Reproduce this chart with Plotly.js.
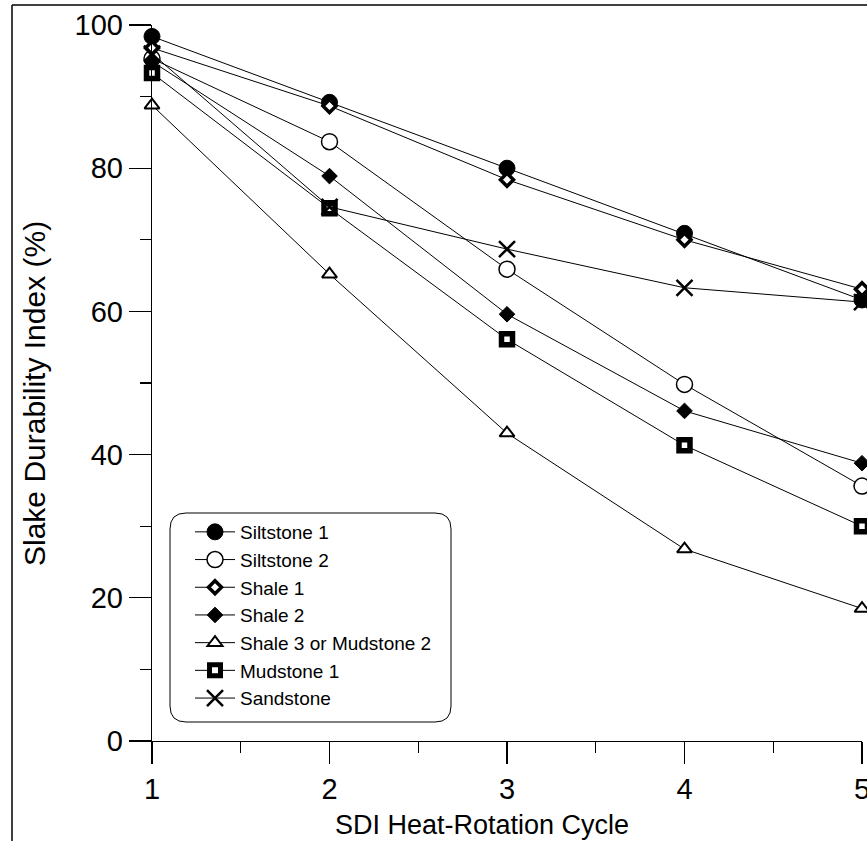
<!DOCTYPE html>
<html>
<head>
<meta charset="utf-8">
<script src="https://cdn.plot.ly/plotly-3.0.1.min.js"></script>
<style>
html,body{margin:0;padding:0;background:#fff;}
#chart{width:867px;height:841px;}
</style>
</head>
<body>
<div id="chart"></div>
<script>
const cycles = [1, 2, 3, 4, 5];
const seriesNames = ["Siltstone 1", "Siltstone 2", "Shale 1", "Shale 2", "Shale 3 or Mudstone 2", "Mudstone 1", "Sandstone"];
const siltstone1 = [98.4, 89.2, 80.0, 70.9, 61.6];
const siltstone2 = [95.3, 83.7, 65.9, 49.8, 35.6];
const shale1 = [96.8, 88.7, 78.4, 70.0, 63.1];
const shale2 = [94.9, 78.9, 59.6, 46.1, 38.8];
const shale3 = [88.8, 65.2, 43.0, 26.8, 18.5];
const mudstone1 = [93.3, 74.4, 56.1, 41.3, 30.0];
const sandstone = [96.0, 74.6, 68.7, 63.3, 61.3];
const yTickVals = [0, 20, 40, 60, 80, 100];
const xTickVals = [1, 2, 3, 4, 5];

const values = [siltstone1, siltstone2, shale1, shale2, shale3, mudstone1, sandstone];
const markers = [
  {symbol: "circle", size: 16, color: "#000", line: {color: "#000", width: 1}},
  {symbol: "circle", size: 16, color: "#fff", line: {color: "#000", width: 1.5}},
  {symbol: "diamond", size: 10, color: "#fff", line: {color: "#000", width: 3.5}},
  {symbol: "diamond", size: 12, color: "#000", line: {color: "#000", width: 1}},
  {symbol: "triangle-up", size: 13, color: "#fff", line: {color: "#000", width: 2}},
  {symbol: "square", size: 11, color: "#fff", line: {color: "#000", width: 5.5}},
  {symbol: "x-thin-open", size: 16, color: "#000", line: {color: "#000", width: 2.5}}
];

const traces = values.map((v, i) => ({
  x: cycles, y: v, name: seriesNames[i], type: "scatter", mode: "lines+markers",
  line: {color: "#000", width: 1}, marker: markers[i], cliponaxis: false
}));

// plot area in pixels
const L = 152, R = 862, T = 25, B = 741, W = 867, H = 841;
const px = x => (x - L) / (R - L);
const py = y => (B - y) / (B - T);

function roundRect(x0, y0, x1, y1, r) {
  const rx = r / (R - L), ry = r / (B - T);
  const a = px(x0), b = px(x1), top = py(y0), bot = py(y1);
  return `M${a + rx},${top} L${b - rx},${top} Q${b},${top} ${b},${top - ry} ` +
         `L${b},${bot + ry} Q${b},${bot} ${b - rx},${bot} L${a + rx},${bot} ` +
         `Q${a},${bot} ${a},${bot + ry} L${a},${top - ry} Q${a},${top} ${a + rx},${top} Z`;
}

const font = "Liberation Sans, Arial, sans-serif";
const layout = {
  width: W, height: H,
  margin: {l: L, r: W - R, t: T, b: H - B, pad: 0},
  paper_bgcolor: "#fff", plot_bgcolor: "#fff",
  font: {family: font, color: "#000"},
  showlegend: true,
  legend: {
    x: px(190), y: py(513), xanchor: "left", yanchor: "top",
    bgcolor: "rgba(0,0,0,0)", borderwidth: 0,
    font: {family: font, size: 19, color: "#000"},
    tracegroupgap: 0, itemwidth: 40
  },
  xaxis: {
    range: [1, 5], tickvals: xTickVals, ticktext: xTickVals.map(String),
    showline: true, linecolor: "#000", linewidth: 1.3,
    ticks: "outside", ticklen: 22, tickwidth: 1.3, tickcolor: "#000",
    minor: {dtick: 0.5, ticks: "outside", ticklen: 11, tickwidth: 1.3, tickcolor: "#000", showgrid: false},
    showgrid: false, zeroline: false, ticklabeloverflow: "allow",
    tickfont: {family: font, size: 29, color: "#000"},
    title: {text: ""}
  },
  yaxis: {
    range: [0, 100], tickvals: yTickVals, ticktext: yTickVals.map(String),
    showline: true, linecolor: "#000", linewidth: 1.3,
    ticks: "outside", ticklen: 22, tickwidth: 1.3, tickcolor: "#000",
    minor: {dtick: 10, ticks: "outside", ticklen: 11, tickwidth: 1.3, tickcolor: "#000", showgrid: false},
    showgrid: false, zeroline: false, ticklabeloverflow: "allow",
    tickfont: {family: font, size: 29, color: "#000"},
    title: {text: ""}
  },
  annotations: [{
    text: "SDI Heat-Rotation Cycle", xref: "paper", yref: "paper",
    x: px(482), y: py(825), xanchor: "center", yanchor: "middle", showarrow: false,
    font: {family: font, size: 27, color: "#000"}
  }, {
    text: "Slake Durability Index (%)", xref: "paper", yref: "paper", textangle: -90,
    x: px(34), y: py(394), xanchor: "center", yanchor: "middle", showarrow: false,
    font: {family: font, size: 30, color: "#000"}
  }],
  shapes: [
    {type: "line", xref: "paper", yref: "paper", x0: px(12), x1: px(867), y0: py(5), y1: py(5), line: {color: "#000", width: 1.5}},
    {type: "line", xref: "paper", yref: "paper", x0: px(12), x1: px(12), y0: py(5), y1: py(841), line: {color: "#000", width: 1.5}},
    {type: "path", xref: "paper", yref: "paper", path: roundRect(170, 513, 451, 722, 16), line: {color: "#000", width: 1}}
  ]
};

Plotly.newPlot("chart", traces, layout, {staticPlot: true, displayModeBar: false});
</script>
</body>
</html>
